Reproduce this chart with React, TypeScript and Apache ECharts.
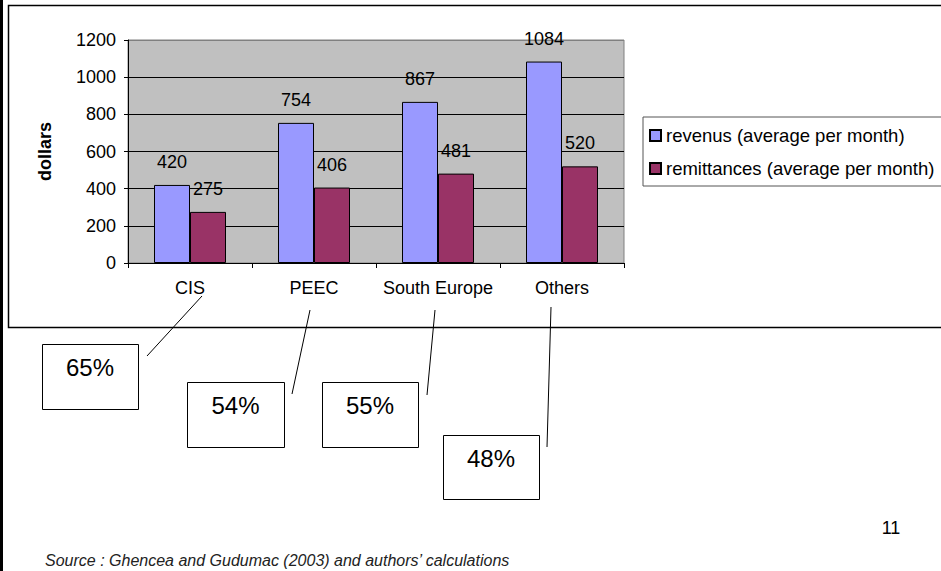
import React, { useEffect, useRef } from "react";
import * as echarts from "echarts";

const categories = ["CIS", "PEEC", "South Europe", "Others"];
const revenus = [420, 754, 867, 1084];
const remittances = [275, 406, 481, 520];
const seriesNames = ["revenus (average per month)", "remittances (average per month)"];
const shares = ["65%", "54%", "55%", "48%"];
const yAxisName = "dollars";
const sourceNote = "Source : Ghencea and Gudumac (2003) and authors\u2019 calculations";
const pageNumber = "11";

// annotation layout (box: x, y, w, h ; leader line: x1,y1,x2,y2)
const shareBoxes = [
  { x: 42, y: 344, w: 96, h: 65, line: [147, 356, 202, 296] },
  { x: 187, y: 382, w: 97, h: 65, line: [292, 394, 310, 310] },
  { x: 322, y: 382, w: 96, h: 65, line: [427, 395, 435, 310] },
  { x: 443, y: 435, w: 96, h: 64, line: [547, 447, 551, 307] },
];

const FONT = "'Liberation Sans', Arial, Helvetica, sans-serif";

export default function App() {
  const ref = useRef<HTMLDivElement>(null);
  useEffect(() => {
    if (!ref.current) return;
    const chart = echarts.init(ref.current, undefined, { renderer: "svg" });
    const graphics: any[] = [
      { type: "line", shape: { x1: 1.5, y1: 0, x2: 1.5, y2: 571 }, style: { stroke: "#000", lineWidth: 3 } },
      { type: "rect", shape: { x: 8.5, y: 5.5, width: 1000, height: 322 }, style: { fill: "none", stroke: "#000", lineWidth: 1.5 } },
    ];
    shareBoxes.forEach((b, i) => {
      graphics.push({
        type: "rect",
        shape: { x: b.x + 0.5, y: b.y + 0.5, width: b.w, height: b.h },
        style: { fill: "#fff", stroke: "#000", lineWidth: 1 },
      });
      graphics.push({
        type: "text",
        x: b.x + b.w / 2,
        y: b.y + 23,
        style: { text: shares[i], font: `24px ${FONT}`, fill: "#000", textAlign: "center", textVerticalAlign: "middle" },
      });
      graphics.push({
        type: "line",
        shape: { x1: b.line[0], y1: b.line[1], x2: b.line[2], y2: b.line[3] },
        style: { stroke: "#000", lineWidth: 1 },
      });
    });
    graphics.push({
      type: "text",
      x: 891,
      y: 528,
      style: { text: pageNumber, font: `18px ${FONT}`, fill: "#000", textAlign: "center", textVerticalAlign: "middle" },
    });
    graphics.push({
      type: "text",
      x: 45,
      y: 560,
      style: { text: sourceNote, font: `italic 16px ${FONT}`, fill: "#222", textAlign: "left", textVerticalAlign: "middle" },
    });

    chart.setOption({
      animation: false,
      backgroundColor: "#fff",
      textStyle: { fontFamily: FONT },
      grid: {
        left: 128,
        right: 317,
        top: 40,
        bottom: 308,
        show: true,
        backgroundColor: "#C0C0C0",
        borderColor: "#808080",
        borderWidth: 1,
      },
      legend: {
        orient: "vertical",
        left: 643,
        top: 117,
        padding: [9, 40, 8, 6],
        itemWidth: 11,
        itemHeight: 11,
        itemGap: 14,
        icon: "rect",
        borderColor: "#555",
        borderWidth: 1,
        backgroundColor: "#fff",
        textStyle: { fontSize: 18.5, color: "#000", fontFamily: FONT },
        data: seriesNames,
      },
      xAxis: {
        type: "category",
        data: categories,
        axisLine: { lineStyle: { color: "#000", width: 1 } },
        axisTick: { show: true, length: 5, lineStyle: { color: "#000" } },
        axisLabel: { interval: 0, fontSize: 18, color: "#000", margin: 16, fontFamily: FONT },
      },
      yAxis: {
        type: "value",
        min: 0,
        max: 1200,
        interval: 200,
        name: yAxisName,
        nameLocation: "middle",
        nameRotate: 90,
        nameGap: 74,
        nameTextStyle: { fontSize: 18, fontWeight: "bold", color: "#000", fontFamily: FONT },
        axisLine: { show: true, lineStyle: { color: "#000", width: 1 } },
        axisTick: { show: true, length: 4, lineStyle: { color: "#000" } },
        axisLabel: {
          fontSize: 18,
          color: "#000",
          margin: 12,
          fontFamily: FONT,
          formatter: (v: number) => String(v),
        },
        splitLine: {
          show: true,
          lineStyle: { color: ["#000", "#000", "#000", "#000", "#000", "#000", "#808080"], width: 1 },
        },
      },
      series: [
        {
          name: seriesNames[0],
          type: "bar",
          data: revenus,
          barWidth: 36,
          barGap: "0%",
          itemStyle: { color: "#9999FF", borderColor: "#000", borderWidth: 1 },
          label: { show: true, position: "top", distance: 14, fontSize: 18, color: "#000", fontFamily: FONT },
        },
        {
          name: seriesNames[1],
          type: "bar",
          data: remittances,
          barWidth: 36,
          barGap: "0%",
          itemStyle: { color: "#993366", borderColor: "#000", borderWidth: 1 },
          label: { show: true, position: "top", distance: 14, fontSize: 18, color: "#000", fontFamily: FONT },
        },
      ],
      graphic: graphics,
    });
    return () => chart.dispose();
  }, []);
  return (
    <div
      ref={ref}
      style={{ position: "fixed", left: 0, top: 0, width: 941, height: 571, background: "#fff" }}
    />
  );
}
